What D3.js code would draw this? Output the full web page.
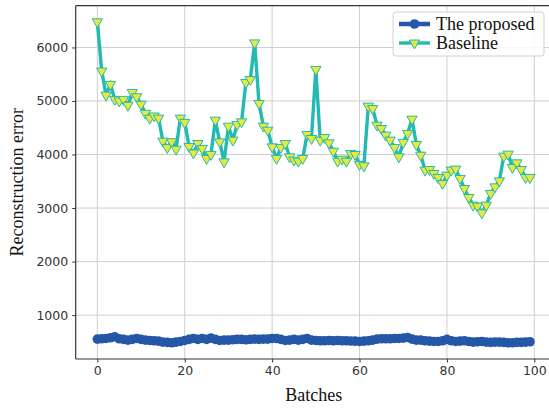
<!DOCTYPE html>
<html>
<head>
<meta charset="utf-8">
<script src="https://cdn.jsdelivr.net/npm/d3@7"></script>
<style>
  html, body { margin: 0; padding: 0; background: #fff; }
  svg { display: block; }
  .tick text { font-family: "DejaVu Sans", sans-serif; font-size: 12.5px; fill: #333; }
</style>
</head>
<body>
<script>
// batches 0..99
var batches = d3.range(0, 100);

// reconstruction error of the proposed method
var proposed = [
  552, 558, 564, 577, 595, 558, 546, 533, 546, 564,
  546, 533, 527, 521, 514, 496, 490, 483, 496, 508,
  527, 546, 564, 546, 564, 546, 570, 546, 527, 533,
  533, 539, 546, 546, 539, 546, 552, 546, 552, 552,
  564, 564, 546, 527, 533, 546, 533, 546, 564, 533,
  527, 521, 521, 527, 521, 527, 521, 521, 515, 514,
  508, 514, 521, 533, 552, 558, 558, 558, 564, 564,
  570, 583, 552, 533, 533, 521, 514, 508, 508, 521,
  546, 521, 508, 514, 521, 508, 496, 502, 508, 496,
  490, 496, 496, 490, 483, 483, 490, 490, 496, 502
];

// reconstruction error of the baseline
var baseline = [
  6480, 5560, 5110, 5310, 5030, 5000, 5030, 4920, 5160, 5080,
  4940, 4770, 4680, 4720, 4680, 4250, 4130, 4240, 4100, 4680,
  4600, 4150, 4030, 4206, 4113, 3927, 4002, 4642, 4237, 3863,
  4530, 4269, 4562, 4611, 5346, 5402, 6086, 4954, 4530, 4455,
  4144, 3927, 4132, 4206, 3957, 3895, 3876, 3927, 4375, 4300,
  5589, 4269, 4319, 4219, 4063, 3876, 3914, 3876, 4020, 4001,
  3814, 3789, 4904, 4860, 4549, 4487, 4362, 4269, 4132, 3957,
  4226, 4394, 4661, 4188, 3988, 3708, 3720, 3646, 3572, 3460,
  3615, 3708, 3727, 3553, 3366, 3198, 3054, 3036, 2911, 3054,
  3273, 3396, 3508, 3970, 4007, 3758, 3845, 3720, 3572, 3572
];

var xTicks = [0, 20, 40, 60, 80, 100];
var yTicks = [1000, 2000, 3000, 4000, 5000, 6000];
var seriesNames = ["The proposed", "Baseline"];

var W = 549, H = 412;
var plotL = 75.7, plotR = 551.6, plotT = 5.7, plotB = 359;

var blue = "#2457a8", teal = "#22bab2", yellow = "#e9e83c";
var serif = "'Liberation Serif', 'Times New Roman', serif";

var svg = d3.select("body").append("svg").attr("width", W).attr("height", H);

var x = d3.scaleLinear().domain([-4.95, 103.95]).range([plotL, plotR]);
var y = d3.scaleLinear().domain([180, 6780]).range([plotB, plotT]);

// grid
svg.append("g").selectAll("line").data(xTicks).enter().append("line")
  .attr("x1", d => x(d)).attr("x2", d => x(d))
  .attr("y1", plotT).attr("y2", plotB)
  .attr("stroke", "#cfcfcf").attr("stroke-width", 1);
svg.append("g").selectAll("line").data(yTicks).enter().append("line")
  .attr("x1", plotL).attr("x2", plotR)
  .attr("y1", d => y(d)).attr("y2", d => y(d))
  .attr("stroke", "#cfcfcf").attr("stroke-width", 1);

// axes
var xAxis = svg.append("g").attr("transform", "translate(0," + plotB + ")")
  .call(d3.axisBottom(x).tickValues(xTicks).tickSize(3.5).tickPadding(4).tickFormat(d3.format("d")));
var yAxis = svg.append("g").attr("transform", "translate(" + plotL + ",0)")
  .call(d3.axisLeft(y).tickValues(yTicks).tickSize(3.5).tickPadding(4).tickFormat(d3.format("d")));
[xAxis, yAxis].forEach(function (a) {
  a.select(".domain").remove();
  a.selectAll(".tick line").attr("stroke", "#333").attr("stroke-width", 1);
});

// spines
svg.append("line").attr("x1", plotL).attr("x2", plotL).attr("y1", plotT).attr("y2", plotB)
  .attr("stroke", "#333").attr("stroke-width", 1.2);
svg.append("line").attr("x1", plotL).attr("x2", plotR).attr("y1", plotB).attr("y2", plotB)
  .attr("stroke", "#333").attr("stroke-width", 1.2);
svg.append("line").attr("x1", plotL).attr("x2", plotR).attr("y1", plotT).attr("y2", plotT)
  .attr("stroke", "#333").attr("stroke-width", 1.2);

var line = d3.line().x((d, i) => x(batches[i])).y(d => y(d));

// proposed
svg.append("path").datum(proposed).attr("d", line)
  .attr("fill", "none").attr("stroke", blue).attr("stroke-width", 4.5);
svg.append("g").selectAll("circle").data(proposed).enter().append("circle")
  .attr("cx", (d, i) => x(batches[i])).attr("cy", d => y(d)).attr("r", 4.8)
  .attr("fill", blue);

// baseline
var tri = d3.symbol().type(d3.symbolTriangle).size(46);
svg.append("path").datum(baseline).attr("d", line)
  .attr("fill", "none").attr("stroke", teal).attr("stroke-width", 3.4);
svg.append("g").selectAll("path").data(baseline).enter().append("path")
  .attr("d", tri)
  .attr("transform", (d, i) => "translate(" + x(batches[i]) + "," + y(d) + ") rotate(180)")
  .attr("fill", yellow).attr("stroke", teal).attr("stroke-width", 1);

// axis labels
svg.append("text").attr("x", (plotL + plotR) / 2).attr("y", 401)
  .attr("text-anchor", "middle")
  .style("font-family", serif).style("font-size", "18px")
  .attr("fill", "#111").text("Batches");
svg.append("text").attr("transform", "translate(23," + ((plotT + plotB) / 2) + ") rotate(-90)")
  .attr("text-anchor", "middle")
  .style("font-family", serif).style("font-size", "18px")
  .attr("fill", "#111").text("Reconstruction error");

// legend
var lg = svg.append("g");
lg.append("rect").attr("x", 393).attr("y", 12).attr("width", 151).attr("height", 44)
  .attr("rx", 3).attr("fill", "#fff").attr("fill-opacity", 0.85)
  .attr("stroke", "#d0d0d0").attr("stroke-width", 1);
var rows = lg.selectAll("g.row").data(seriesNames).enter().append("g")
  .attr("transform", (d, i) => "translate(0," + (24 + i * 19) + ")");
rows.append("line").attr("x1", 399).attr("x2", 430).attr("y1", 0).attr("y2", 0)
  .attr("stroke", (d, i) => i === 0 ? blue : teal)
  .attr("stroke-width", (d, i) => i === 0 ? 4.5 : 3.4);
rows.filter((d, i) => i === 0).append("circle").attr("cx", 414.5).attr("cy", 0).attr("r", 4.8).attr("fill", blue);
rows.filter((d, i) => i === 1).append("path").attr("d", tri)
  .attr("transform", "translate(414.5,0) rotate(180)")
  .attr("fill", yellow).attr("stroke", teal).attr("stroke-width", 1);
rows.append("text").attr("x", 436).attr("y", 6)
  .style("font-family", serif).style("font-size", "18px")
  .attr("fill", "#111").text(d => d);
</script>
</body>
</html>
